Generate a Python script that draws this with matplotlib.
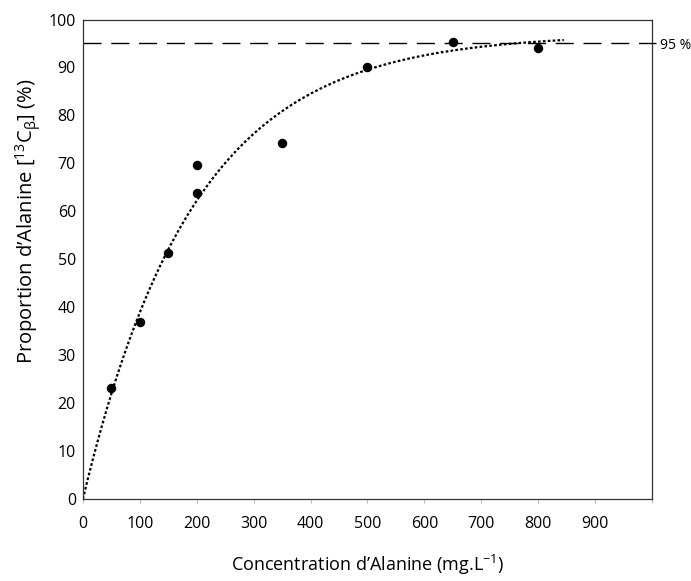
import matplotlib
matplotlib.use("Agg")
import matplotlib.pyplot as plt
import numpy as np

plt.rcParams['font.family'] = ['Open Sans', 'DejaVu Sans']
plt.rcParams['mathtext.fontset'] = 'custom'
plt.rcParams['mathtext.rm'] = 'Open Sans'
plt.rcParams['mathtext.it'] = 'Open Sans'

# measured points
concentration = [50, 100, 150, 200, 200, 350, 500, 650, 800]
proportion = [23.2, 37.0, 51.4, 69.6, 63.9, 74.3, 90.1, 95.4, 94.0]

# trend line: y = fit_max * (1 - exp(-x / fit_k))
fit_max = 97.0
fit_k = 195.0
fit_end = 845
threshold = 95

fig = plt.figure(figsize=(6.91, 5.81), dpi=100)
ax = fig.add_axes([0.120, 0.1411, 0.8236, 0.8253])

xs = np.linspace(0, fit_end, 300)
ax.plot(xs, fit_max * (1 - np.exp(-xs / fit_k)), color='black', lw=1.6,
        dashes=(1.2, 1.0), dash_capstyle='butt')
ax.axhline(threshold, color='black', lw=1.0, dashes=(13, 7))
ax.plot(concentration, proportion, 'o', color='black', ms=5.8, zorder=3)

ax.set_xlim(0, 1000)
ax.set_ylim(0, 100)
ax.set_xticks(range(0, 1001, 100))
ax.set_xticklabels([str(v) for v in range(0, 901, 100)] + [''])
ax.set_yticks(range(0, 101, 10))
ax.tick_params(axis='x', length=3, color='#bbbbbb', pad=9, labelsize=11.5)
ax.tick_params(axis='y', length=0, pad=5, labelsize=11.5)
for s in ax.spines.values():
    s.set_color('#333333')
    s.set_linewidth(0.9)

ax.set_xlabel('Concentration d’Alanine (mg.L$^{-1}$)', fontsize=13, labelpad=15)
ax.set_ylabel('Proportion d’Alanine [$^{13}$C$_{\\beta}$] (%)', fontsize=14.5)
ax.yaxis.set_label_coords(-0.071, 0.58)

ax2 = ax.twinx()
ax2.set_ylim(0, 100)
ax2.set_yticks([threshold])
ax2.set_yticklabels(['95 %'])
ax2.tick_params(axis='y', length=3, width=1.0, pad=3, labelsize=10)
for s in ax2.spines.values():
    s.set_visible(False)

fig.savefig('out.png', dpi=100)
